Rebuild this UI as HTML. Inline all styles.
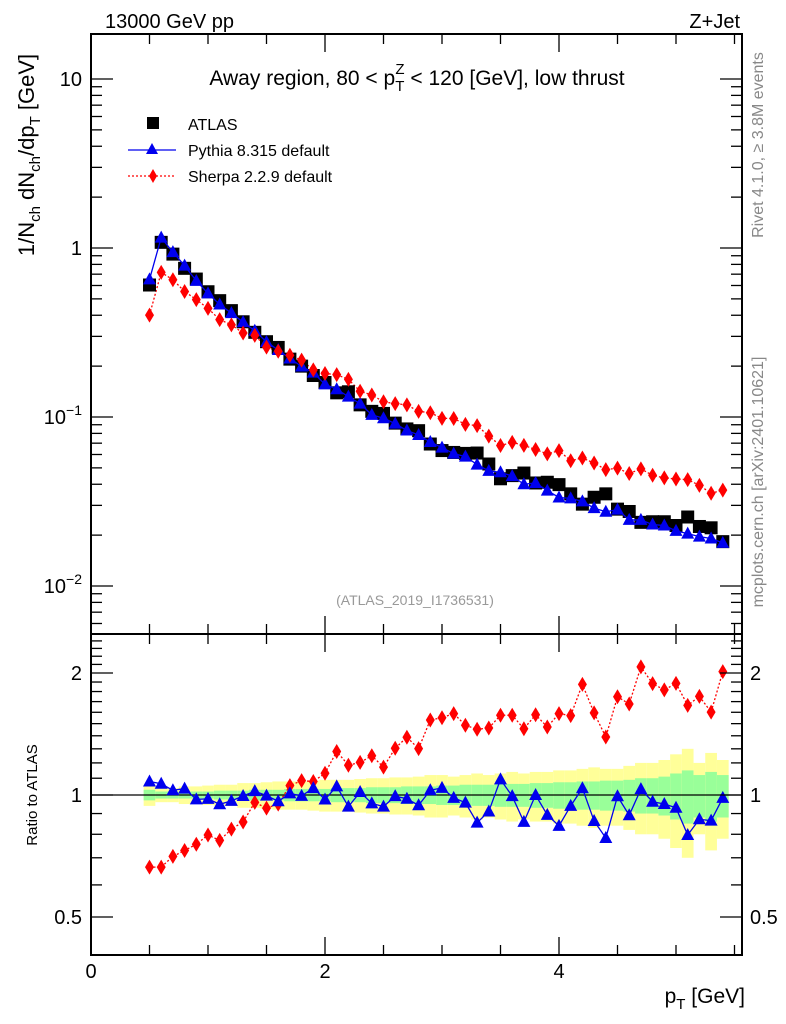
<!DOCTYPE html>
<html><head><meta charset="utf-8"><style>
html,body{margin:0;padding:0;background:#fff;}
svg{display:block;font-family:"Liberation Sans",Arial,sans-serif;}
</style></head><body>
<svg id="chart" width="786" height="1024" viewBox="0 0 786 1024">
<g id="bands"></g>
<g id="marks"></g>
<g id="axes"></g>
<text x="105" y="28" font-size="20">13000 GeV pp</text>
<text x="740" y="28" font-size="20" text-anchor="end">Z+Jet</text>
<text x="417" y="85" font-size="21" text-anchor="middle">Away region, 80 &lt; p<tspan font-size="15" dy="6">T</tspan><tspan font-size="15" dx="-9" dy="-17">Z</tspan><tspan dy="11"> &lt; 120 [GeV], low thrust</tspan></text>
<g>
<rect x="147" y="117" width="12" height="12" fill="#000"/>
<text x="188" y="130" font-size="16">ATLAS</text>
<line x1="128" y1="150" x2="176" y2="150" stroke="#0000ee" stroke-width="1.3"/>
<polygon points="152,143 158,154 146,154" fill="#0000ee"/>
<text x="188" y="156" font-size="16">Pythia 8.315 default</text>
<line x1="128" y1="176" x2="176" y2="176" stroke="#ff0000" stroke-width="1.3" stroke-dasharray="2,2"/>
<polygon points="153,169 157,176 153,183 149,176" fill="#ff0000"/>
<text x="188" y="182" font-size="16">Sherpa 2.2.9 default</text>
</g>
<text x="415" y="605" font-size="14" fill="#999" text-anchor="middle">(ATLAS_2019_I1736531)</text>
<text transform="translate(763,145) rotate(-90)" font-size="16" fill="#888" text-anchor="middle">Rivet 4.1.0, ≥ 3.8M events</text>
<text transform="translate(763,482) rotate(-90)" font-size="16" fill="#888" text-anchor="middle">mcplots.cern.ch [arXiv:2401.10621]</text>
<text transform="translate(34,155) rotate(-90)" font-size="22" text-anchor="middle">1/N<tspan font-size="15" dy="6">ch</tspan><tspan dy="-6"> dN</tspan><tspan font-size="15" dy="6">ch</tspan><tspan dy="-6">/dp</tspan><tspan font-size="15" dy="6">T</tspan><tspan dy="-6"> [GeV]</tspan></text>
<text transform="translate(37,795) rotate(-90)" font-size="15" text-anchor="middle">Ratio to ATLAS</text>
<text x="745" y="1003" font-size="21" text-anchor="end">p<tspan font-size="15" dy="6">T</tspan><tspan dy="-6"> [GeV]</tspan></text>
</svg>
<script>
const xCenters=[];for(let i=0;i<50;i++){xCenters.push(+(0.5+0.1*i).toFixed(2));}
const atlas=[0.604,1.08,0.92,0.758,0.655,0.551,0.488,0.426,0.366,0.317,0.279,0.258,0.22,0.20,0.176,0.160,0.139,0.141,0.118,0.108,0.105,0.092,0.085,0.083,0.0692,0.0633,0.0617,0.0609,0.0612,0.0527,0.0431,0.0450,0.0466,0.0407,0.0411,0.0398,0.0351,0.0305,0.0335,0.0351,0.0285,0.0276,0.0238,0.0240,0.0240,0.0228,0.0256,0.0225,0.0221,0.0183];
const pythia=[0.652,1.151,0.945,0.786,0.639,0.539,0.463,0.412,0.364,0.324,0.278,0.249,0.222,0.199,0.183,0.156,0.146,0.132,0.120,0.103,0.0983,0.0914,0.0832,0.0783,0.0711,0.0659,0.0607,0.0583,0.0523,0.0480,0.0471,0.0447,0.0400,0.0407,0.0367,0.0334,0.0330,0.0317,0.0289,0.0275,0.0283,0.0246,0.0246,0.0231,0.0228,0.0212,0.0204,0.0196,0.0191,0.0180];
const sherpa=[0.401,0.717,0.649,0.553,0.495,0.439,0.377,0.351,0.314,0.304,0.259,0.245,0.232,0.217,0.190,0.181,0.178,0.167,0.142,0.135,0.123,0.120,0.118,0.108,0.106,0.0982,0.0980,0.0905,0.0889,0.0771,0.0678,0.0708,0.0679,0.0642,0.0605,0.0632,0.0551,0.0572,0.0534,0.0488,0.0498,0.0463,0.0493,0.0452,0.0436,0.0430,0.0426,0.0394,0.0354,0.0369];
const statErr=[0.03,0.02,0.02,0.02,0.02,0.02,0.025,0.025,0.025,0.03,0.03,0.03,0.035,0.035,0.035,0.035,0.04,0.04,0.04,0.045,0.045,0.045,0.05,0.05,0.05,0.055,0.055,0.06,0.06,0.06,0.065,0.065,0.065,0.07,0.07,0.075,0.075,0.08,0.08,0.085,0.085,0.09,0.1,0.1,0.11,0.13,0.15,0.12,0.14,0.12];
const totErr=[0.06,0.04,0.04,0.05,0.05,0.055,0.06,0.06,0.07,0.07,0.075,0.08,0.08,0.08,0.085,0.09,0.09,0.09,0.095,0.1,0.1,0.105,0.105,0.11,0.12,0.12,0.11,0.12,0.13,0.12,0.13,0.14,0.13,0.14,0.14,0.15,0.15,0.16,0.17,0.16,0.16,0.18,0.2,0.2,0.22,0.26,0.3,0.2,0.27,0.22];
const xTicksMajor=[0,2,4];
const yMainTicks=[10,1,0.1,0.01];
const ratioTicks=[0.5,1,2];

const NS="http://www.w3.org/2000/svg";
const L=91,R=742,T=34,D=634,B=955;
const X=v=>L+v*117;
const Y=v=>248-Math.log10(v)*169;
const YR=v=>795-Math.log2(v)*122;
function mk(tag,attrs,parent){const e=document.createElementNS(NS,tag);for(const k in attrs)e.setAttribute(k,attrs[k]);parent.appendChild(e);return e;}
const bands=document.getElementById('bands'),marks=document.getElementById('marks'),axes=document.getElementById('axes');

xCenters.forEach((x,i)=>{
  const x0=X(x-0.05),w=117*0.1;
  let r=mk('rect',{x:x0,y:YR(1+totErr[i]),width:w,height:YR(1-totErr[i])-YR(1+totErr[i]),fill:'#ffff99'},bands);
  
  
  let g=mk('rect',{x:x0,y:YR(1+statErr[i]),width:w,height:YR(1-statErr[i])-YR(1+statErr[i]),fill:'#99ff99'},bands);
  
  
});
let ref=mk('line',{x1:L,x2:R,y1:YR(1),y2:YR(1),stroke:'#000','stroke-width':1.3},bands);



function tri(cx,cy,col,name){const p=mk('polygon',{points:`${cx},${cy-7} ${cx+6.5},${cy+5} ${cx-6.5},${cy+5}`,fill:col},marks);}
function dia(cx,cy,col,name){const p=mk('polygon',{points:`${cx},${cy-7.5} ${cx+4.5},${cy} ${cx},${cy+7.5} ${cx-4.5},${cy}`,fill:col},marks);}
function line(vals,fy,col,dash,name){const pts=vals.map((v,i)=>X(xCenters[i])+','+fy(v,i)).join(' ');const a={points:pts,fill:'none',stroke:col,'stroke-width':1.3};if(dash)a['stroke-dasharray']=dash;const p=mk('polyline',a,marks);}

line(sherpa,v=>Y(v),'#ff0000','2,2','sherpa-line');
atlas.forEach((v,i)=>{const r=mk('rect',{x:X(xCenters[i])-6.5,y:Y(v)-6.5,width:13,height:13,fill:'#000'},marks);});
line(pythia,v=>Y(v),'#0000ee',null,'pythia-line');
pythia.forEach((v,i)=>tri(X(xCenters[i]),Y(v),'#0000ee','pythia-point'));
sherpa.forEach((v,i)=>dia(X(xCenters[i]),Y(v),'#ff0000','sherpa-point'));

const rP=pythia.map((v,i)=>v/atlas[i]),rS=sherpa.map((v,i)=>v/atlas[i]);
line(rS,v=>YR(v),'#ff0000','2,2','sherpa-ratio-line');
rS.forEach((v,i)=>dia(X(xCenters[i]),YR(v),'#ff0000','sherpa-ratio-point'));
line(rP,v=>YR(v),'#0000ee',null,'pythia-ratio-line');
rP.forEach((v,i)=>tri(X(xCenters[i]),YR(v),'#0000ee','pythia-ratio-point'));

[[T,D],[D,B]].forEach(([t,b])=>{const f=mk('rect',{x:L,y:t,width:R-L,height:b-t,fill:'none',stroke:'#000','stroke-width':2},axes);});
for(let v=0;v<=5.5;v+=0.5){const maj=Math.abs(v%2)<1e-6;const len=maj?18:10;
  [[T,1],[D,-1],[D,1],[B,-1]].forEach(([y0,s])=>{mk('line',{x1:X(v),x2:X(v),y1:y0,y2:y0+s*len,stroke:'#000','stroke-width':1.3},axes);});}
xTicksMajor.forEach(v=>{const t=mk('text',{x:X(v),y:978,'font-size':20,'text-anchor':'middle'},axes);t.textContent=v;});
for(let d=-3;d<=1;d++){for(let m=1;m<10;m++){const v=m*Math.pow(10,d);const y=Y(v);if(y<T||y>D)continue;const len=m==1?22:11;
  mk('line',{x1:L,x2:L+len,y1:y,y2:y,stroke:'#000','stroke-width':1.3},axes);mk('line',{x1:R,x2:R-len,y1:y,y2:y,stroke:'#000','stroke-width':1.3},axes);}}
yMainTicks.forEach(v=>{const y=Y(v);const t=mk('text',{x:82,y:y+7,'font-size':20,'text-anchor':'end'},axes);
  if(v>=1)t.textContent=v;else{t.textContent='10';const s=mk('tspan',{'font-size':14,dy:-9},t);s.textContent=(v==0.1?'−1':'−2');}
  });
for(let v=0.4;v<=2.5;v+=0.1){const y=YR(v);if(y<D||y>B)continue;const maj=[0.5,1,2].some(m=>Math.abs(m-v)<1e-6);const len=maj?22:11;
  mk('line',{x1:L,x2:L+len,y1:y,y2:y,stroke:'#000','stroke-width':1.3},axes);mk('line',{x1:R,x2:R-len,y1:y,y2:y,stroke:'#000','stroke-width':1.3},axes);}
ratioTicks.forEach(v=>{const y=YR(v);
  const t=mk('text',{x:82,y:y+7,'font-size':20,'text-anchor':'end'},axes);t.textContent=v;
  const t2=mk('text',{x:750,y:y+7,'font-size':20},axes);t2.textContent=v;});
</script>
</body></html>
